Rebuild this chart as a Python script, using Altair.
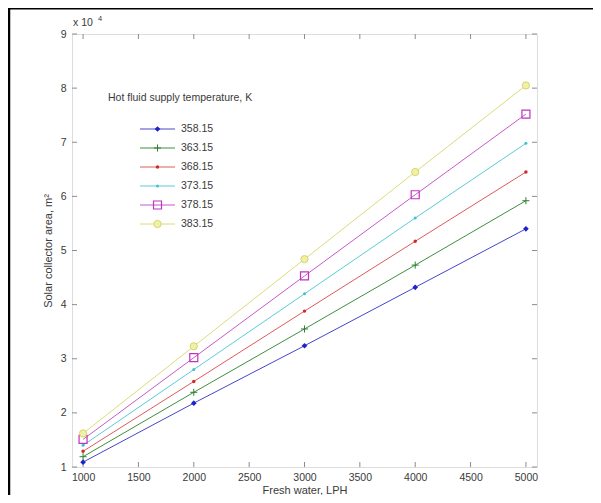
import altair as alt
import pandas as pd

# ---------------- data ----------------
temps = ["358.15", "363.15", "368.15", "373.15", "378.15", "383.15"]
fresh_water = [1000, 2000, 3000, 4000, 5000]
area_358 = [10900, 21800, 32400, 43200, 54000]
area_363 = [11900, 23800, 35500, 47300, 59200]
area_368 = [12900, 25800, 38800, 51700, 64500]
area_373 = [14000, 28000, 42000, 56000, 69800]
area_378 = [15100, 30200, 45300, 60300, 75200]
area_383 = [16200, 32300, 48400, 64500, 80500]
x_ticks = [1000, 1500, 2000, 2500, 3000, 3500, 4000, 4500, 5000]
y_ticks = [10000, 20000, 30000, 40000, 50000, 60000, 70000, 80000, 90000]
legend_title = ["Hot fluid supply temperature, K"]
exp_base = ["x 10"]
exp_power = ["4"]

series = [area_358, area_363, area_368, area_373, area_378, area_383]
rows = []
for t, vals in zip(temps, series):
    for w, a in zip(fresh_water, vals):
        rows.append({"temp": t, "water": w, "area": a})
df = pd.DataFrame(rows)

W, H = 465, 433
FONT = "Liberation Sans"
TXT = "#3a3a3a"
GRAY = "#8c8c8c"

line_colors = ["#4646cc", "#3f8f3f", "#e05a5a", "#5ccbdb", "#c75ac9", "#dcdc78"]
color_scale = alt.Scale(domain=temps, range=line_colors)

styles = {
    "358.15": dict(shape="diamond", filled=True, size=32, color="#2020cc"),
    "363.15": dict(shape="M-1,0H1M0,-1V1", filled=False, size=50, color="#2f7f2f", strokeWidth=1),
    "368.15": dict(shape="circle", filled=True, size=12, color="#cc2a2a"),
    "373.15": dict(shape="circle", filled=True, size=9, color="#44c0d0"),
    "378.15": dict(shape="square", filled=False, size=64, color="#c033c0", strokeWidth=1.2),
    "383.15": dict(shape="circle", filled=True, size=52, color="#f0f0a8", stroke="#d6d66a", strokeWidth=1),
}

x_scale = alt.Scale(domain=[900, 5100], nice=False, zero=False)
y_scale = alt.Scale(domain=[10000, 90000], nice=False, zero=False)

x_axis = alt.Axis(values=x_ticks, format="d", ticks=False, domain=False, grid=False, labelFont=FONT,
                  labelFontSize=10.5, labelColor=TXT, labelPadding=5, title="Fresh water, LPH",
                  titleFont=FONT, titleFontSize=11, titleFontWeight="normal", titleColor=TXT,
                  titlePadding=2)
y_axis = alt.Axis(values=y_ticks, ticks=False, domain=False, grid=False, labelFont=FONT,
                  labelFontSize=10.5, labelColor=TXT, labelPadding=6,
                  labelExpr="datum.value / 10000", title="Solar collector area, m²",
                  titleFont=FONT, titleFontSize=11, titleFontWeight="normal", titleColor=TXT,
                  titlePadding=7)


def X(field):
    return alt.X(f"{field}:Q", scale=x_scale, axis=x_axis)


def Y(field):
    return alt.Y(f"{field}:Q", scale=y_scale, axis=y_axis)


base = alt.Chart(df)
lines = base.mark_line(strokeWidth=1).encode(
    x=X("water"), y=Y("area"),
    color=alt.Color("temp:N", scale=color_scale, legend=None),
    detail="temp:N",
)

point_layers = []
for t in temps:
    point_layers.append(
        base.transform_filter(alt.datum.temp == t)
        .mark_point(opacity=1, **styles[t])
        .encode(x=X("water"), y=Y("area"))
    )

xt = alt.Chart(pd.DataFrame({"water": x_ticks}))
yt = alt.Chart(pd.DataFrame({"area": y_ticks}))
tick_bottom = xt.mark_rule(color=GRAY, strokeWidth=1).encode(x=X("water"), y=alt.value(H), y2=alt.value(H - 5))
tick_top = xt.mark_rule(color=GRAY, strokeWidth=1).encode(x=X("water"), y=alt.value(0), y2=alt.value(5))
tick_left = yt.mark_rule(color=GRAY, strokeWidth=1).encode(y=Y("area"), x=alt.value(0), x2=alt.value(5))
tick_right = yt.mark_rule(color=GRAY, strokeWidth=1).encode(y=Y("area"), x=alt.value(W), x2=alt.value(W - 5))

plot_layer = alt.layer(tick_bottom, tick_top, tick_left, tick_right, lines, *point_layers)

# ---------------- legend drawn inside the plot ----------------
ldf = pd.DataFrame({"temp": temps})
leg_y = alt.Y("temp:N", scale=alt.Scale(type="point", domain=temps, range=[95, 190], padding=0), axis=None)
leg = alt.Chart(ldf)
leg_lines = leg.mark_rule(strokeWidth=1).encode(
    x=alt.value(68), x2=alt.value(103), y=leg_y,
    color=alt.Color("temp:N", scale=color_scale, legend=None),
)
leg_points = []
for t in temps:
    leg_points.append(
        leg.transform_filter(alt.datum.temp == t)
        .mark_point(opacity=1, **styles[t])
        .encode(x=alt.value(85.5), y=leg_y)
    )
leg_text = leg.mark_text(align="left", baseline="middle", font=FONT, fontSize=10.5, color=TXT).encode(
    x=alt.value(109), y=leg_y, text="temp:N"
)
leg_title = alt.Chart(pd.DataFrame({"t": legend_title})).mark_text(
    align="left", baseline="middle", font=FONT, fontSize=10.5, color=TXT
).encode(x=alt.value(36), y=alt.value(64), text="t:N")

exp1 = alt.Chart(pd.DataFrame({"t": exp_base})).mark_text(
    align="left", baseline="middle", font=FONT, fontSize=10.5, color=TXT
).encode(x=alt.value(1), y=alt.value(-11), text="t:N")
exp2 = alt.Chart(pd.DataFrame({"t": exp_power})).mark_text(
    align="left", baseline="middle", font=FONT, fontSize=7.5, color=TXT
).encode(x=alt.value(26), y=alt.value(-15), text="t:N")

# page frame lines of the surrounding table
one = alt.Data(values=[{}])
frame_left = alt.Chart(one).mark_rule(color="black", strokeWidth=2.5).encode(
    x=alt.value(-63), y=alt.value(-26), y2=alt.value(470)
)
frame_top = alt.Chart(one).mark_rule(color="black", strokeWidth=1.5).encode(
    x=alt.value(-64), x2=alt.value(521), y=alt.value(-25.3)
)

overlay = alt.layer(leg_lines, *leg_points, leg_text, leg_title, exp1, exp2, frame_left, frame_top)

chart = (
    alt.layer(plot_layer, overlay)
    .resolve_scale(x="independent", y="independent")
    .properties(width=W, height=H, padding={"left": 64, "top": 26, "right": 56, "bottom": 28},
                autosize=alt.AutoSizeParams(type="none"))
    .configure_view(stroke=GRAY, strokeWidth=1)
    .configure(background="white")
)

chart.save("out.html", embed_options={"renderer": "svg", "actions": False})
